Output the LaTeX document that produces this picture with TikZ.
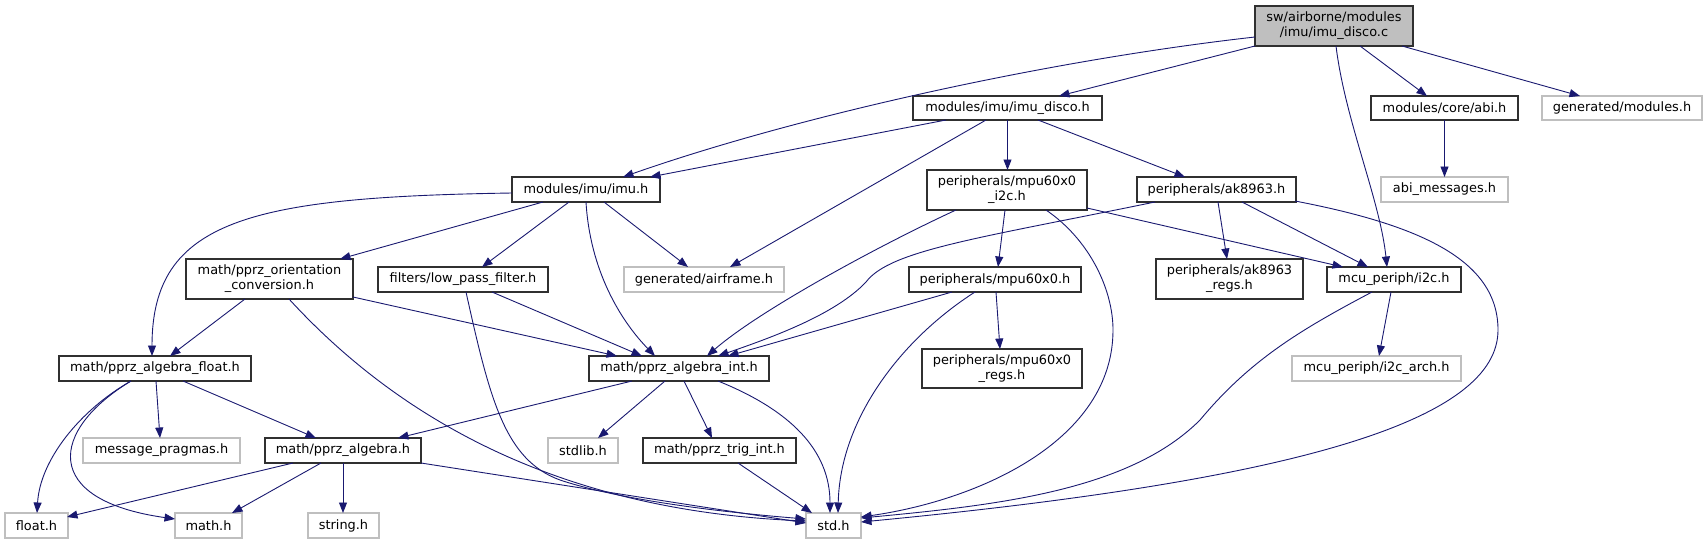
\documentclass[tikz,border=0pt]{standalone}
\usepackage{fontspec}
\setmainfont{DejaVu Sans}
\usetikzlibrary{arrows.meta,calc}
\definecolor{navy}{HTML}{191970}
\definecolor{gline}{HTML}{BFBFBF}
\definecolor{rootfill}{HTML}{BFBFBF}
\definecolor{bline}{HTML}{303030}
\tikzset{
  box/.style={draw=bline, line width=1.1pt, inner sep=0pt, outer sep=0pt, align=center,
    font=\fontsize{12.9}{15}\selectfont, anchor=north west},
  gbox/.style={box, draw=gline},
  dep/.style={draw=navy, line width=0.9pt, -{Triangle[length=10.5pt,width=8pt]}}
}
\begin{document}
\begin{tikzpicture}[x=1pt,y=-1pt]
\useasboundingbox (0,0) rectangle (1707,544);
% nodes
\node[box, fill=rootfill, minimum width=158pt, minimum height=40pt] (root) at (1255,6) {sw/airborne/modules\\/imu/imu\_disco.c};
\node[box, minimum width=189pt, minimum height=24pt] (imudisco) at (913,96) {modules/imu/imu\_disco.h};
\node[box, minimum width=147pt, minimum height=24pt] (abi) at (1371,96) {modules/core/abi.h};
\node[gbox, minimum width=160pt, minimum height=24pt] (genmod) at (1542,96) {generated/modules.h};
\node[box, minimum width=148pt, minimum height=25pt] (imu) at (512,177) {modules/imu/imu.h};
\node[box, minimum width=160pt, minimum height=40pt] (mpui2c) at (927,170) {peripherals/mpu60x0\\\_i2c.h};
\node[box, minimum width=159pt, minimum height=25pt] (ak) at (1137,177) {peripherals/ak8963.h};
\node[gbox, minimum width=127pt, minimum height=25pt] (abimsg) at (1381,177) {abi\_messages.h};
\node[box, minimum width=167pt, minimum height=40pt] (orient) at (186,259) {math/pprz\_orientation\\\_conversion.h};
\node[box, minimum width=170pt, minimum height=25pt] (lpf) at (378,267) {filters/low\_pass\_filter.h};
\node[gbox, minimum width=160pt, minimum height=25pt] (airframe) at (624,267) {generated/airframe.h};
\node[box, minimum width=172pt, minimum height=25pt] (mpu) at (909,267) {peripherals/mpu60x0.h};
\node[box, minimum width=147pt, minimum height=40pt] (akregs) at (1156,259) {peripherals/ak8963\\\_regs.h};
\node[box, minimum width=134pt, minimum height=25pt] (i2c) at (1327,267) {mcu\_periph/i2c.h};
\node[box, minimum width=192pt, minimum height=25pt] (float) at (59,356) {math/pprz\_algebra\_float.h};
\node[box, minimum width=180pt, minimum height=25pt] (int) at (589,356) {math/pprz\_algebra\_int.h};
\node[box, minimum width=160pt, minimum height=39pt] (mpuregs) at (922,349) {peripherals/mpu60x0\\\_regs.h};
\node[gbox, minimum width=169pt, minimum height=25pt] (i2carch) at (1292,356) {mcu\_periph/i2c\_arch.h};
\node[gbox, minimum width=157pt, minimum height=25pt] (msgprag) at (83,438) {message\_pragmas.h};
\node[box, minimum width=156pt, minimum height=25pt] (alg) at (265,438) {math/pprz\_algebra.h};
\node[gbox, minimum width=70pt, minimum height=25pt] (stdlib) at (548,438) {stdlib.h};
\node[box, minimum width=153pt, minimum height=25pt] (trig) at (643,438) {math/pprz\_trig\_int.h};
\node[gbox, minimum width=63pt, minimum height=25pt] (floath) at (5,513) {float.h};
\node[gbox, minimum width=67pt, minimum height=25pt] (mathh) at (175,513) {math.h};
\node[gbox, minimum width=71pt, minimum height=25pt] (stringh) at (308,513) {string.h};
\node[gbox, minimum width=55pt, minimum height=25pt] (stdh) at (806,513) {std.h};
% edges
\draw[dep] ($(root.north west)+(0,31)$) .. controls (1050,60) and (800,115) .. ($(imu.north west)+(111,0)$);
\draw[dep] (root.south west) -- ($(imudisco.north west)+(146,0)$);
\draw[dep] ($(root.north west)+(105,40)$) -- ($(abi.north west)+(56,0)$);
\draw[dep] ($(root.north west)+(147,40)$) -- ($(genmod.north west)+(38,0)$);
\draw[dep] ($(root.north west)+(81,40)$) .. controls (1345,120) and (1380,200) .. ($(i2c.north west)+(60,0)$);
\draw[dep] ($(imudisco.north west)+(33,24)$) -- ($(imu.north west)+(138,0)$);
\draw[dep] ($(imudisco.north west)+(73,24)$) -- ($(airframe.north west)+(106,0)$);
\draw[dep] (imudisco.south) -- (imudisco.south |- mpui2c.north);
\draw[dep] ($(imudisco.north west)+(125,24)$) -- ($(ak.north west)+(48,0)$);
\draw[dep] (abi.south) -- (abimsg.north);
\draw[dep] ($(imu.north west)+(0,16)$) .. controls (250,197) and (152,220) .. ($(float.north west)+(93,0)$);
\draw[dep] ($(imu.north west)+(31,25)$) -- ($(orient.north west)+(154,0)$);
\draw[dep] ($(imu.north west)+(57,25)$) -- ($(lpf.north west)+(104,0)$);
\draw[dep] ($(imu.north west)+(92,25)$) -- ($(airframe.north west)+(64,0)$);
\draw[dep] ($(imu.north west)+(74,25)$) .. controls (590,270) and (620,320) .. ($(int.north west)+(66,0)$);
\draw[dep] ($(mpui2c.north west)+(29,40)$) .. controls (880,245) and (760,310) .. ($(int.north west)+(118,0)$);
\draw[dep] ($(mpui2c.north west)+(78,40)$) -- ($(mpu.north west)+(89,0)$);
\draw[dep] ($(mpui2c.north west)+(119,40)$) .. controls (1090,240) and (1113,290) .. (1113,330) .. controls (1113,440) and (980,500) .. ($(stdh.north west)+(55,4)$);
\draw[dep] ($(mpui2c.north west)+(160,38)$) -- ($(i2c.north west)+(16,0)$);
\draw[dep] ($(ak.north west)+(18,25)$) .. controls (980,238) and (890,250) .. (866,282) .. controls (835,315) and (770,338) .. ($(int.north west)+(129,0)$);
\draw[dep] ($(ak.north west)+(81,25)$) -- ($(akregs.north west)+(71,0)$);
\draw[dep] ($(ak.north west)+(105,25)$) -- ($(i2c.north west)+(41,0)$);
\draw[dep] ($(ak.north west)+(158,24)$) .. controls (1420,225) and (1498,260) .. (1498,330) .. controls (1498,420) and (1300,480) .. ($(stdh.north west)+(55,9)$);
\draw[dep] ($(orient.north west)+(59,40)$) -- ($(float.north west)+(111,0)$);
\draw[dep] ($(orient.north west)+(167,38)$) -- ($(int.north west)+(28,0)$);
\draw[dep] ($(orient.north west)+(103,40)$) .. controls (400,420) and (560,510) .. ($(stdh.north west)+(0,8)$);
\draw[dep] ($(lpf.north west)+(114,25)$) -- ($(int.north west)+(53,0)$);
\draw[dep] ($(lpf.north west)+(88,25)$) .. controls (490,400) and (505,460) .. (560,480) .. controls (620,500) and (720,512) .. ($(stdh.north west)+(0,6)$);
\draw[dep] ($(mpu.north west)+(43,25)$) -- ($(int.north west)+(139,0)$);
\draw[dep] ($(mpu.north west)+(87,25)$) -- ($(mpuregs.north west)+(78,0)$);
\draw[dep] ($(mpu.north west)+(66,25)$) .. controls (900,340) and (840,420) .. ($(stdh.north west)+(32,0)$);
\draw[dep] ($(i2c.north west)+(64,25)$) -- ($(i2carch.north west)+(87,0)$);
\draw[dep] ($(i2c.north west)+(45,25)$) .. controls (1300,330) and (1250,360) .. (1200,420) .. controls (1130,490) and (1000,505) .. ($(stdh.north west)+(55,5)$);
\draw[dep] ($(float.north west)+(97,25)$) -- ($(msgprag.north west)+(77,0)$);
\draw[dep] ($(float.north west)+(124,25)$) -- ($(alg.north west)+(51,0)$);
\draw[dep] ($(float.north west)+(72,25)$) .. controls (80,410) and (40,460) .. ($(floath.north west)+(32,0)$);
\draw[dep] ($(float.north west)+(72,25)$) .. controls (50,430) and (40,500) .. ($(mathh.north west)+(0,6)$);
\draw[dep] ($(int.north west)+(43,25)$) -- ($(alg.north west)+(133,0)$);
\draw[dep] ($(int.north west)+(76,25)$) -- ($(stdlib.north west)+(50,0)$);
\draw[dep] ($(int.north west)+(95,25)$) -- ($(trig.north west)+(69,0)$);
\draw[dep] ($(int.north west)+(129,25)$) .. controls (790,410) and (830,450) .. ($(stdh.north west)+(24,0)$);
\draw[dep] ($(alg.north west)+(28,25)$) -- ($(floath.north west)+(62,4)$);
\draw[dep] ($(alg.north west)+(56,25)$) -- ($(mathh.north west)+(57,0)$);
\draw[dep] (alg.south) -- (alg.south |- stringh.north);
\draw[dep] (alg.south east) -- ($(stdh.north west)+(0,10)$);
\draw[dep] ($(trig.north west)+(95,25)$) -- ($(stdh.north west)+(6,0)$);
\end{tikzpicture}
\end{document}
